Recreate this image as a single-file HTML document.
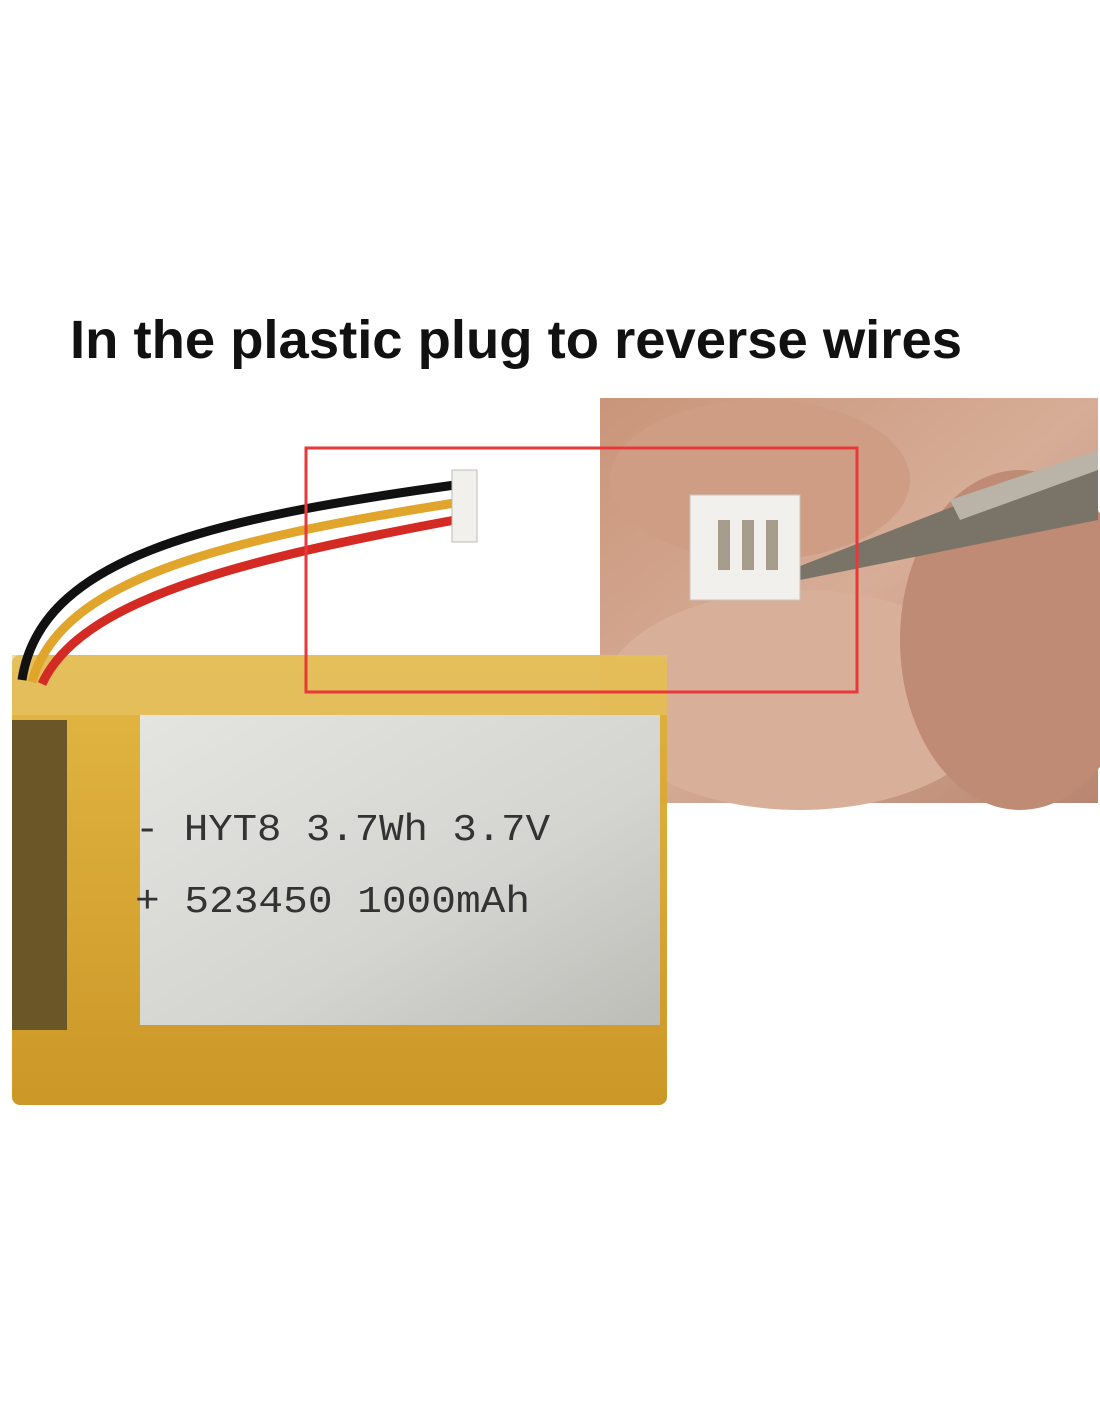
<!DOCTYPE html>
<html><head><meta charset="utf-8"><style>
html,body{margin:0;padding:0;background:#fff;}
svg{display:block;}
</style></head><body>
<svg width="1100" height="1422" viewBox="0 0 1100 1422" xmlns="http://www.w3.org/2000/svg">
<defs>
<linearGradient id="skin" x1="0" y1="0" x2="1" y2="1">
<stop offset="0" stop-color="#c9957a"/><stop offset="0.5" stop-color="#d7ad97"/><stop offset="1" stop-color="#b88670"/>
</linearGradient>
<linearGradient id="bat" x1="0" y1="0" x2="0" y2="1">
<stop offset="0" stop-color="#e2b33a"/><stop offset="1" stop-color="#c9921c"/>
</linearGradient>
<linearGradient id="silver" x1="0" y1="0" x2="1" y2="1">
<stop offset="0" stop-color="#e4e4e0"/><stop offset="0.6" stop-color="#d4d4d0"/><stop offset="1" stop-color="#bdbdb8"/>
</linearGradient>
</defs>
<text x="70" y="358" font-family="Liberation Sans, sans-serif" font-weight="bold" font-size="54" fill="#111" textLength="892" lengthAdjust="spacingAndGlyphs">In the plastic plug to reverse wires</text>
<rect x="600" y="398" width="498" height="405" fill="url(#skin)"/>
<ellipse cx="800" cy="700" rx="200" ry="110" fill="#d8b09a"/>
<ellipse cx="1020" cy="640" rx="120" ry="170" fill="#c08b74"/>
<ellipse cx="760" cy="480" rx="150" ry="80" fill="#cf9c84"/>
<polygon points="790,570 1098,450 1098,520 800,580" fill="#7a7468"/>
<polygon points="950,500 1098,450 1098,470 960,520" fill="#b9b3a8"/>
<rect x="690" y="495" width="110" height="105" fill="#f2f0ec" stroke="#c8c4be"/>
<rect x="718" y="520" width="12" height="50" fill="#a89c8c"/><rect x="742" y="520" width="12" height="50" fill="#a89c8c"/><rect x="766" y="520" width="12" height="50" fill="#a89c8c"/>
<rect x="12" y="655" width="655" height="450" rx="8" fill="url(#bat)" opacity="0.95"/>
<rect x="12" y="655" width="655" height="60" fill="#e6c46a" opacity="0.6"/>
<rect x="140" y="715" width="520" height="310" fill="url(#silver)"/>
<rect x="12" y="720" width="55" height="310" fill="#6a5626"/>
<path d="M22,680 C40,560 200,520 455,485" stroke="#111" stroke-width="9" fill="none"/>
<path d="M32,682 C60,580 220,540 455,503" stroke="#e0a52a" stroke-width="9" fill="none"/>
<path d="M42,684 C80,600 240,560 455,520" stroke="#d42a24" stroke-width="9" fill="none"/>
<rect x="452" y="470" width="25" height="72" fill="#f2f0ec" stroke="#bbb"/>
<text x="135" y="840" font-family="Liberation Mono, monospace" font-size="38" fill="#333" textLength="415" lengthAdjust="spacingAndGlyphs">- HYT8 3.7Wh 3.7V</text>
<text x="135" y="912" font-family="Liberation Mono, monospace" font-size="38" fill="#333" textLength="395" lengthAdjust="spacingAndGlyphs">+ 523450 1000mAh</text>
<rect x="306" y="448" width="551" height="244" fill="none" stroke="#e8383a" stroke-width="3"/>
</svg>
</body></html>
